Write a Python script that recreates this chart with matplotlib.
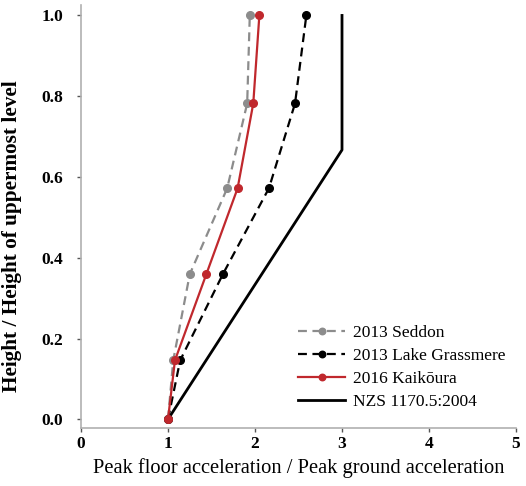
import matplotlib.pyplot as plt

heights = [0.0, 0.146, 0.359, 0.572, 0.782, 1.0]
seddon = [1.0, 1.06, 1.25, 1.68, 1.91, 1.94]
grassmere = [1.0, 1.14, 1.63, 2.16, 2.46, 2.59]
kaikoura = [1.0, 1.08, 1.44, 1.80, 1.98, 2.05]
nzs_x = [1.0, 3.0, 3.0]
nzs_y = [0.0, 0.667, 1.0]

plt.rcParams["font.family"] = ["Liberation Serif", "DejaVu Serif"]

fig = plt.figure(figsize=(5.26, 4.86), dpi=100)
ax = fig.add_axes([0.154, 0.119, 0.827, 0.870])

ax.plot(seddon, heights, color="#8c8c8c", ls=(0, (4, 2.5)), lw=1.6,
        marker="o", ms=5.5, label="2013 Seddon", clip_on=False, zorder=3)
ax.plot(grassmere, heights, color="black", ls=(0, (4, 2.5)), lw=1.6,
        marker="o", ms=5.5, label="2013 Lake Grassmere", clip_on=False, zorder=3)
ax.plot(kaikoura, heights, color="#c0282d", lw=1.6,
        marker="o", ms=5.5, label="2016 Kaik\u014dura", clip_on=False, zorder=4)
ax.plot(nzs_x, nzs_y, color="black", lw=2, label="NZS 1170.5:2004", zorder=2)

ax.set_xlim(0, 5)
ax.set_ylim(-0.022, 1.025)
ax.set_xticks([0, 1, 2, 3, 4, 5])
ax.set_yticks([0.0, 0.2, 0.4, 0.6, 0.8, 1.0])
ax.set_yticklabels(["0.0", "0.2", "0.4", "0.6", "0.8", "1.0"])

for side in ["top", "right"]:
    ax.spines[side].set_visible(False)
for side in ["left", "bottom"]:
    ax.spines[side].set_color("#b0b0b0")
    ax.spines[side].set_linewidth(1.2)

ax.tick_params(length=3, width=1, color="#555555", labelsize=12.5)
ax.tick_params(axis="y", pad=10)
ax.tick_params(axis="x", pad=3)
for lab in ax.get_xticklabels() + ax.get_yticklabels():
    lab.set_fontweight("bold")

ax.set_xlabel("Peak floor acceleration / Peak ground acceleration",
              fontsize=14.8, labelpad=4)
ax.set_ylabel("Height / Height of uppermost level", fontsize=15.3,
              fontweight="bold", labelpad=9)
ax.yaxis.set_label_coords(-0.135, 0.455)

ax.legend(loc="upper left", bbox_to_anchor=(0.554, 0.345),
          bbox_transform=fig.transFigure, frameon=False, fontsize=12.5,
          handlelength=2.7, handletextpad=0.45, labelspacing=0.38,
          markerscale=0.85, borderaxespad=0)

fig.savefig("out.png", dpi=100)
